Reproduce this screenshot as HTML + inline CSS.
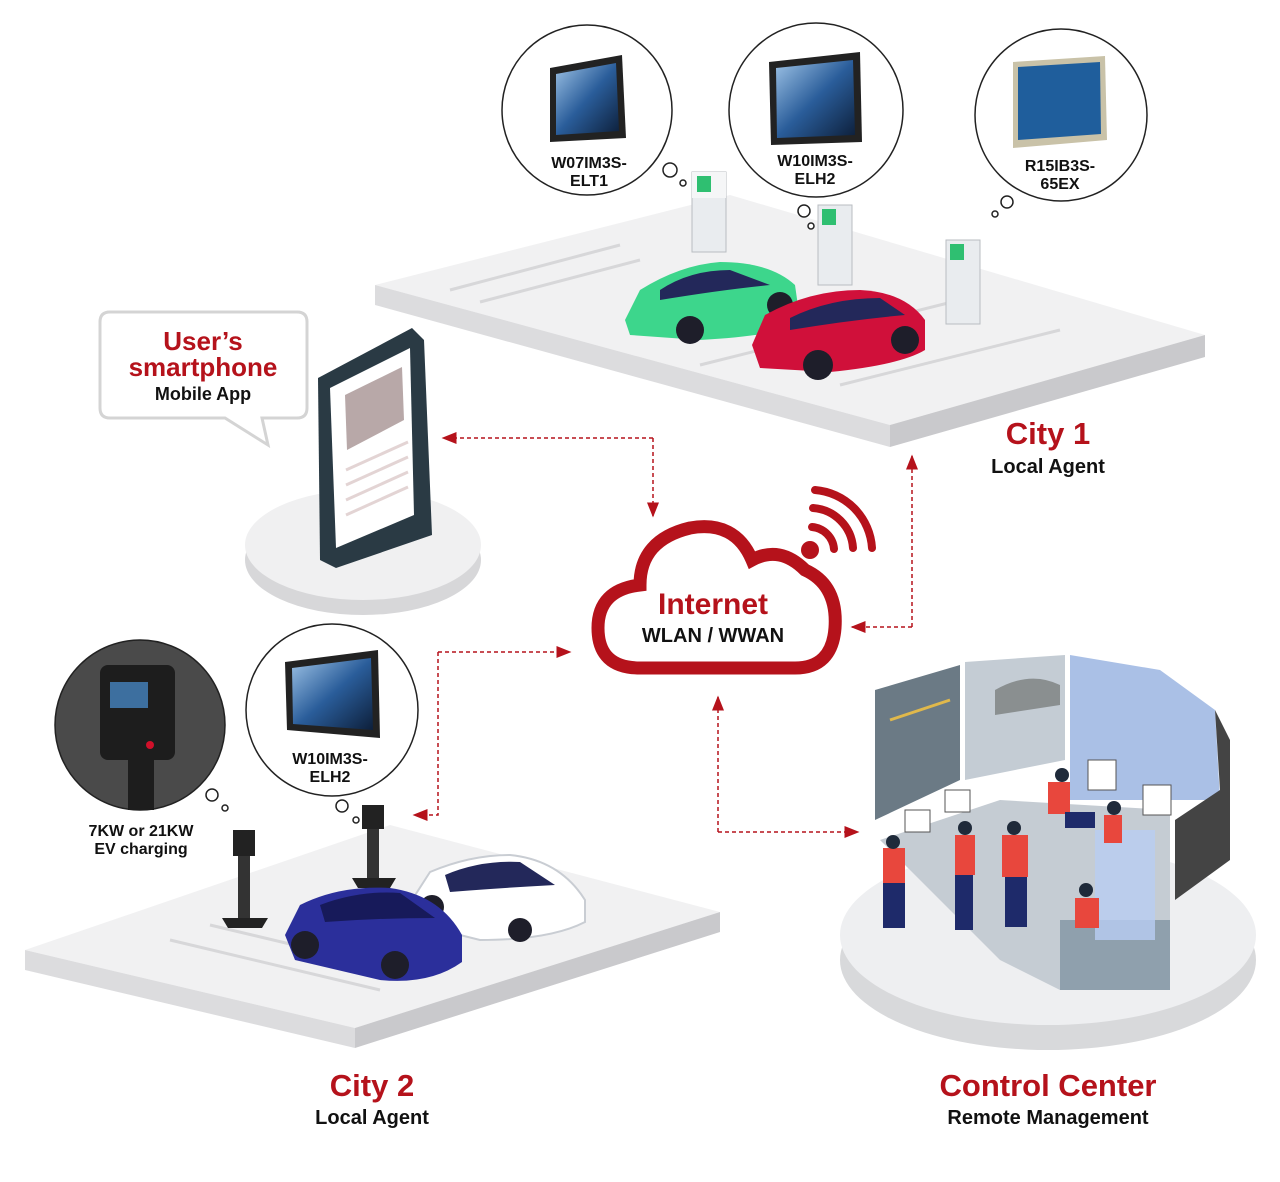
<!DOCTYPE html>
<html><head><meta charset="utf-8"><style>
html,body{margin:0;padding:0;background:#fff}
svg{display:block}
text{font-family:"Liberation Sans",sans-serif;font-weight:bold}
</style></head><body>
<svg width="1280" height="1182" viewBox="0 0 1280 1182" xmlns="http://www.w3.org/2000/svg">
<defs>
<marker id="ah" markerWidth="10" markerHeight="8" refX="9" refY="4" orient="auto"><path d="M0,0 L10,4 L0,8z" fill="#b5121b"/></marker>
<linearGradient id="scr" x1="0" y1="0" x2="1" y2="1"><stop offset="0" stop-color="#9ec3e6"/><stop offset="0.5" stop-color="#2a5d9a"/><stop offset="1" stop-color="#0d1f3a"/></linearGradient>
</defs>

<!-- City1 platform -->
<polygon points="375,285 730,195 1205,335 890,425" fill="#f1f1f2"/>
<polygon points="375,285 890,425 890,447 375,305" fill="#dcdcde"/>
<polygon points="890,425 1205,335 1205,357 890,447" fill="#c9c9cc"/>
<g stroke="#d7d7d9" stroke-width="3">
<line x1="450" y1="290" x2="620" y2="245"/><line x1="480" y1="302" x2="640" y2="260"/>
<line x1="700" y1="365" x2="960" y2="300"/><line x1="840" y1="385" x2="1060" y2="330"/>
</g>
<!-- chargers city1 -->
<g>
<rect x="692" y="172" width="34" height="80" fill="#e9ecef" stroke="#b9bdc2"/><rect x="692" y="172" width="34" height="26" fill="#f5f6f7"/><rect x="697" y="176" width="14" height="16" fill="#2fbf71"/>
<rect x="818" y="205" width="34" height="80" fill="#e9ecef" stroke="#b9bdc2"/><rect x="822" y="209" width="14" height="16" fill="#2fbf71"/>
<rect x="946" y="240" width="34" height="84" fill="#e9ecef" stroke="#b9bdc2"/><rect x="950" y="244" width="14" height="16" fill="#2fbf71"/>
</g>
<!-- green car -->
<path d="M625,320 L640,290 Q680,265 720,262 Q770,262 795,285 L800,320 Q790,335 700,340 L630,335z" fill="#3dd68c"/>
<path d="M660,290 Q690,270 730,270 L770,285 Q720,290 660,300z" fill="#23285a"/>
<circle cx="690" cy="330" r="14" fill="#1e1e2a"/><circle cx="780" cy="305" r="13" fill="#1e1e2a"/>
<!-- red car -->
<path d="M752,345 L765,315 Q810,290 860,290 Q905,292 925,320 L925,350 Q900,365 830,372 L760,368z" fill="#d0103a"/>
<path d="M790,318 Q830,298 880,298 L905,315 Q850,320 790,330z" fill="#23285a"/>
<circle cx="818" cy="365" r="15" fill="#1e1e2a"/><circle cx="905" cy="340" r="14" fill="#1e1e2a"/>

<!-- monitor circles city1 -->
<g fill="#fff" stroke="#222" stroke-width="1.5">
<circle cx="587" cy="110" r="85"/><circle cx="816" cy="110" r="87"/><circle cx="1061" cy="115" r="86"/>
<circle cx="670" cy="170" r="7"/><circle cx="683" cy="183" r="3"/>
<circle cx="804" cy="211" r="6"/><circle cx="811" cy="226" r="3"/>
<circle cx="1007" cy="202" r="6"/><circle cx="995" cy="214" r="3"/>
</g>
<polygon points="550,68 622,55 626,138 550,142" fill="#222"/><polygon points="556,74 616,63 619,131 556,135" fill="url(#scr)"/>
<polygon points="769,62 860,52 862,142 771,145" fill="#222"/><polygon points="776,68 853,60 855,135 777,138" fill="url(#scr)"/>
<polygon points="1013,62 1105,56 1107,140 1013,148" fill="#c9c2a8"/><polygon points="1018,67 1100,62 1101,134 1018,140" fill="#1f5e9c"/>
<text font-size="16" fill="#111" text-anchor="middle"><tspan x="589" y="168">W07IM3S-</tspan><tspan x="589" y="186">ELT1</tspan></text>
<text font-size="16" fill="#111" text-anchor="middle"><tspan x="815" y="166">W10IM3S-</tspan><tspan x="815" y="184">ELH2</tspan></text>
<text font-size="16" fill="#111" text-anchor="middle"><tspan x="1060" y="171">R15IB3S-</tspan><tspan x="1060" y="189">65EX</tspan></text>

<text x="1048" y="444" font-size="31" fill="#b5121b" text-anchor="middle">City 1</text>
<text x="1048" y="473" font-size="20" fill="#111" text-anchor="middle">Local Agent</text>

<!-- speech bubble -->
<path d="M110,312 H297 Q307,312 307,322 V408 Q307,418 297,418 H262 L268,445 L225,418 H110 Q100,418 100,408 V322 Q100,312 110,312z" fill="#fff" stroke="#d4d4d4" stroke-width="3"/>
<text x="203" y="350" font-size="26" fill="#b5121b" text-anchor="middle">User’s</text>
<text x="203" y="376" font-size="26" fill="#b5121b" text-anchor="middle">smartphone</text>
<text x="203" y="400" font-size="18" fill="#111" text-anchor="middle">Mobile App</text>

<!-- tablet platform -->
<ellipse cx="363" cy="560" rx="118" ry="55" fill="#d7d7d9"/>
<ellipse cx="363" cy="545" rx="118" ry="55" fill="#f0f0f1"/>
<polygon points="318,378 412,328 424,340 432,535 336,568 320,560" fill="#2a3a44"/>
<polygon points="330,388 410,348 414,515 336,548" fill="#fff"/>
<g fill="#b8a8a8"><polygon points="345,395 402,367 404,420 347,450"/></g>
<g stroke="#e3d4d4" stroke-width="3"><line x1="346" y1="470" x2="408" y2="442"/><line x1="346" y1="485" x2="408" y2="457"/><line x1="346" y1="500" x2="408" y2="472"/><line x1="346" y1="515" x2="408" y2="487"/></g>

<!-- cloud -->
<path d="M640,668 Q598,668 598,628 Q598,590 640,585 Q640,540 690,528 Q735,520 752,560 Q780,545 805,570 Q838,585 835,628 Q832,668 795,668 Z" fill="#fff" stroke="#b5121b" stroke-width="13"/>
<text x="713" y="614" font-size="30" fill="#b5121b" text-anchor="middle">Internet</text>
<text x="713" y="642" font-size="20" fill="#111" text-anchor="middle">WLAN / WWAN</text>
<!-- wifi -->
<circle cx="810" cy="550" r="9" fill="#b5121b"/>
<g fill="none" stroke="#b5121b" stroke-width="8" stroke-linecap="round">
<path d="M812,527 A24,24 0 0 1 834,549"/><path d="M813,508 A43,43 0 0 1 853,548"/><path d="M815,490 A62,62 0 0 1 872,548"/></g>

<!-- dashed connectors -->
<g fill="none" stroke="#b5121b" stroke-width="1.5" stroke-dasharray="4,3">
<polyline points="653,438 443,438" marker-end="url(#ah)"/>
<polyline points="653,438 653,516" marker-end="url(#ah)"/>
<polyline points="912,627 912,456" marker-end="url(#ah)"/>
<polyline points="912,627 852,627" marker-end="url(#ah)"/>
<polyline points="438,652 570,652" marker-end="url(#ah)"/>
<polyline points="438,652 438,815 414,815" marker-end="url(#ah)"/>
<polyline points="718,832 718,697" marker-end="url(#ah)"/>
<polyline points="718,832 858,832" marker-end="url(#ah)"/>
</g>

<!-- City2 platform -->
<polygon points="25,950 390,825 720,912 355,1028" fill="#f1f1f2"/>
<polygon points="25,950 355,1028 355,1048 25,970" fill="#dcdcde"/>
<polygon points="355,1028 720,912 720,932 355,1048" fill="#c9c9cc"/>
<g stroke="#d7d7d9" stroke-width="3"><line x1="170" y1="940" x2="380" y2="990"/><line x1="210" y1="925" x2="420" y2="975"/></g>
<!-- chargers city2 -->
<rect x="233" y="830" width="22" height="26" fill="#222"/><rect x="238" y="856" width="12" height="70" fill="#333"/><polygon points="222,918 268,918 262,928 228,928" fill="#222"/>
<rect x="362" y="805" width="22" height="24" fill="#222"/><rect x="367" y="829" width="12" height="55" fill="#333"/><polygon points="352,878 396,878 390,888 358,888" fill="#222"/>
<!-- white car -->
<path d="M412,900 L430,872 Q470,855 510,855 Q560,860 585,900 L585,922 Q550,940 480,940 L420,925z" fill="#fff" stroke="#c9cdd3" stroke-width="2"/>
<path d="M445,875 Q480,860 520,862 L555,885 Q500,888 450,892z" fill="#23285a"/>
<circle cx="432" cy="907" r="12" fill="#1e1e2a"/><circle cx="520" cy="930" r="12" fill="#1e1e2a"/>
<!-- blue car -->
<path d="M285,935 L300,905 Q340,885 390,888 Q440,895 462,935 L462,962 Q430,985 380,980 L295,960z" fill="#2b2f9b"/>
<path d="M320,905 Q360,890 400,893 L435,918 Q380,918 325,922z" fill="#171a5a"/>
<circle cx="305" cy="945" r="14" fill="#1e1e2a"/><circle cx="395" cy="965" r="14" fill="#1e1e2a"/>

<!-- circles city2 -->
<circle cx="140" cy="725" r="85" fill="#4a4a4a" stroke="#222" stroke-width="1.5"/>
<rect x="100" y="665" width="75" height="95" rx="8" fill="#1d1d1d"/><rect x="110" y="682" width="38" height="26" fill="#3d6f9f"/><circle cx="150" cy="745" r="4" fill="#d0102a"/>
<rect x="128" y="760" width="26" height="50" fill="#1d1d1d"/>
<circle cx="332" cy="710" r="86" fill="#fff" stroke="#222" stroke-width="1.5"/>
<polygon points="285,662 378,650 380,738 287,730" fill="#222"/><polygon points="292,668 371,658 373,730 293,724" fill="url(#scr)"/>
<text font-size="16" fill="#111" text-anchor="middle"><tspan x="330" y="764">W10IM3S-</tspan><tspan x="330" y="782">ELH2</tspan></text>
<g fill="#fff" stroke="#222" stroke-width="1.5"><circle cx="212" cy="795" r="6"/><circle cx="225" cy="808" r="3"/><circle cx="342" cy="806" r="6"/><circle cx="356" cy="820" r="3"/></g>
<text font-size="16" fill="#111" text-anchor="middle"><tspan x="141" y="836">7KW or 21KW</tspan><tspan x="141" y="854">EV charging</tspan></text>

<text x="372" y="1096" font-size="31" fill="#b5121b" text-anchor="middle">City 2</text>
<text x="372" y="1124" font-size="20" fill="#111" text-anchor="middle">Local Agent</text>

<!-- control center -->
<ellipse cx="1048" cy="960" rx="208" ry="90" fill="#d8d9db"/>
<ellipse cx="1048" cy="935" rx="208" ry="90" fill="#eeeff1"/>
<polygon points="875,690 960,665 960,780 875,820" fill="#6b7a85"/>
<polyline points="890,720 950,700 M900,750 945,735" stroke="#e0b84b" stroke-width="3" fill="none"/>
<polygon points="965,662 1065,655 1065,760 965,780" fill="#c4ccd4"/>
<path d="M995,690 Q1030,670 1060,685 L1060,705 L995,715z" fill="#8a8f90"/>
<polygon points="1070,655 1160,670 1215,710 1220,800 1070,800" fill="#aac0e6"/>
<polygon points="1215,710 1230,740 1230,860 1175,900 1175,820 1220,790" fill="#444"/>
<polygon points="880,840 1000,800 1170,810 1170,960 1060,990 1000,960" fill="#c5ccd3"/>
<rect x="1060" y="920" width="110" height="70" fill="#8fa0ad"/>
<rect x="1095" y="830" width="60" height="110" fill="#b8cdf2" opacity="0.8"/>
<g fill="#e8473d">
<rect x="883" y="848" width="22" height="35"/><rect x="955" y="835" width="20" height="40"/><rect x="1002" y="835" width="26" height="42"/><rect x="1048" y="782" width="22" height="32"/><rect x="1104" y="815" width="18" height="28"/><rect x="1075" y="898" width="24" height="30"/></g>
<g fill="#1e2a6a">
<rect x="883" y="883" width="22" height="45"/><rect x="955" y="875" width="18" height="55"/><rect x="1005" y="877" width="22" height="50"/><rect x="1065" y="812" width="30" height="16"/></g>
<g fill="#1f2a3a"><circle cx="893" cy="842" r="7"/><circle cx="965" cy="828" r="7"/><circle cx="1014" cy="828" r="7"/><circle cx="1062" cy="775" r="7"/><circle cx="1114" cy="808" r="7"/><circle cx="1086" cy="890" r="7"/></g>
<g fill="#fff" stroke="#555"><rect x="905" y="810" width="25" height="22"/><rect x="945" y="790" width="25" height="22"/><rect x="1088" y="760" width="28" height="30"/><rect x="1143" y="785" width="28" height="30"/></g>

<text x="1048" y="1096" font-size="31" fill="#b5121b" text-anchor="middle">Control Center</text>
<text x="1048" y="1124" font-size="20" fill="#111" text-anchor="middle">Remote Management</text>
</svg>
</body></html>
